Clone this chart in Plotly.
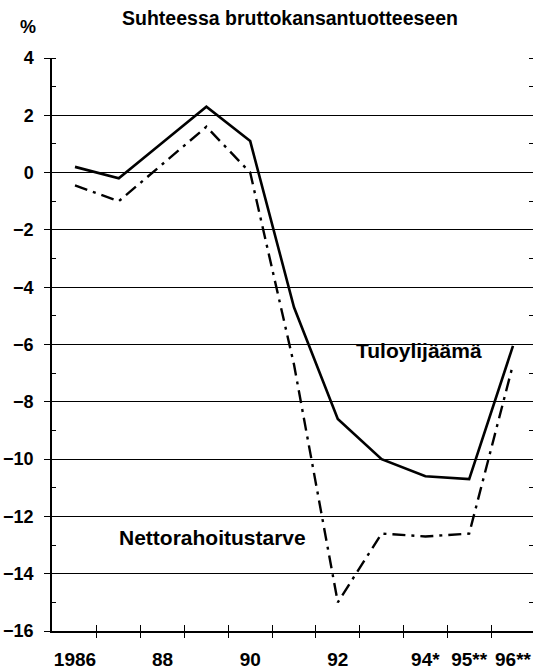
import plotly.graph_objects as go

years = [1986, 1987, 1988, 1989, 1990, 1991, 1992, 1993, 1994, 1995, 1996]
tuloylijaama = [0.2, -0.2, 1.05, 2.3, 1.1, -4.7, -8.6, -10.0, -10.6, -10.7, -6.05]
nettorahoitustarve = [-0.45, -1.0, 0.3, 1.6, 0.0, -6.7, -15.0, -12.6, -12.7, -12.6, -6.7]

label_years = [1986, 1988, 1990, 1992, 1994, 1995, 1996]
label_text = ["1986", "88", "90", "92", "94*", "95**", "96**"]
boundaries = [1986.5, 1987.5, 1988.5, 1989.5, 1990.5, 1991.5, 1992.5, 1993.5, 1994.5, 1995.5]

FONT = "Liberation Sans, Arial, sans-serif"
xr = [1985.475, 1996.457]

fig = go.Figure()
fig.add_trace(go.Scatter(x=years, y=tuloylijaama, mode="lines", name="Tuloylijäämä",
                         line=dict(color="black", width=2.6), xaxis="x", yaxis="y"))
fig.add_trace(go.Scatter(x=years, y=nettorahoitustarve, mode="lines", name="Nettorahoitustarve",
                         line=dict(color="black", width=2.4, dash="13px,6px,3px,6px"),
                         xaxis="x2", yaxis="y"))

fig.update_layout(
    width=533, height=669,
    margin=dict(l=52, r=0, t=58, b=38, autoexpand=False),
    paper_bgcolor="white", plot_bgcolor="white",
    showlegend=False,
    font=dict(family=FONT, color="black"),
    title=dict(text="Suhteessa bruttokansantuotteeseen", x=290/533, xref="container",
               xanchor="center", y=1-18/669, yref="container", yanchor="middle",
               font=dict(size=19.5, weight="bold", family=FONT, color="black")),
    xaxis=dict(range=xr, tickmode="array", tickvals=label_years, ticktext=label_text,
               ticks="", showgrid=False, zeroline=False, showline=True, automargin=False,
               linecolor="black", linewidth=1.5, ticklabelstandoff=10,
               tickfont=dict(size=19, weight="bold", family=FONT, color="black")),
    xaxis2=dict(range=xr, overlaying="x", anchor="y", side="bottom", automargin=False,
                tickmode="array", tickvals=boundaries, ticks="outside", ticklen=6,
                tickwidth=1.2, tickcolor="black", showticklabels=False,
                showgrid=False, zeroline=False, showline=False,
                minor=dict(ticks="inside", tickmode="array", tickvals=boundaries,
                           ticklen=6, tickwidth=1.2, tickcolor="black", showgrid=False)),
    yaxis=dict(range=[-16, 4], tickmode="linear", tick0=-16, dtick=2, automargin=False,
               ticks="outside", ticklen=6, tickwidth=1.2, tickcolor="black",
               showgrid=True, gridcolor="black", gridwidth=1,
               zeroline=False, showline=True, linecolor="black", linewidth=1.5,
               mirror="ticks", ticklabelstandoff=7,
               tickfont=dict(size=18, weight="bold", family=FONT, color="black"),
               minor=dict(ticks="inside", tick0=-15, dtick=1, ticklen=4,
                          tickwidth=1, tickcolor="black", showgrid=False)),
)

fig.add_annotation(text="%", xref="paper", yref="paper", x=-0.05, y=1.054,
                   showarrow=False, xanchor="center", yanchor="middle",
                   font=dict(size=18, weight="bold", family=FONT, color="black"))
fig.add_annotation(text="Tuloylijäämä", xref="x", yref="y", x=1993.85, y=-6.2,
                   showarrow=False, xanchor="center", yanchor="middle",
                   font=dict(size=21, weight="bold", family=FONT, color="black"))
fig.add_annotation(text="Nettorahoitustarve", xref="x", yref="y", x=1989.13, y=-12.72,
                   showarrow=False, xanchor="center", yanchor="middle",
                   font=dict(size=21, weight="bold", family=FONT, color="black"))

fig.write_html("out.html", config={"displayModeBar": False},
               post_script="document.body.style.margin='0';document.body.style.overflow='hidden';")
